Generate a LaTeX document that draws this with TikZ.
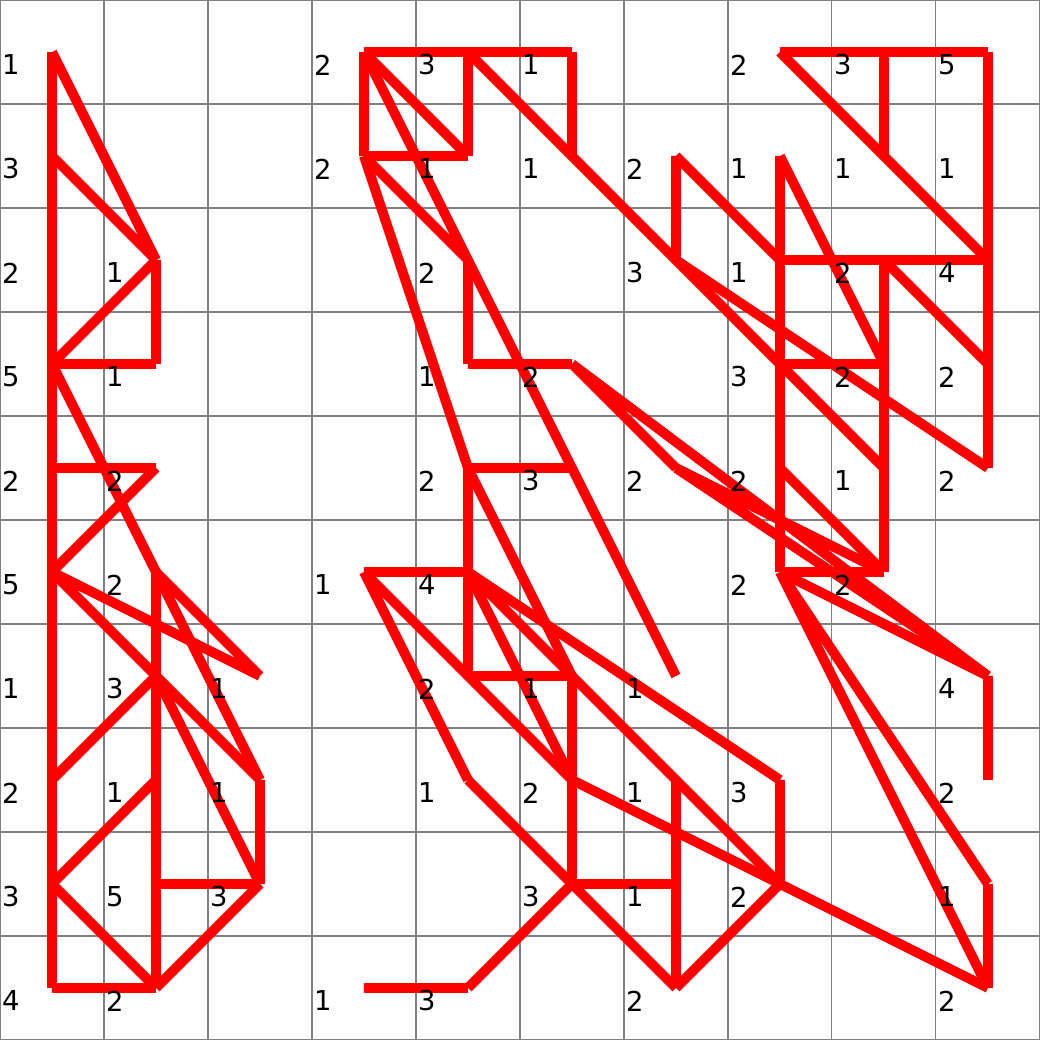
\documentclass[tikz,border=0pt]{standalone}
\usepackage{fontspec}
\setmainfont{DejaVu Sans}
\tikzset{
	gridline/.style={black!50, line width=0.3pt},
	track/.style={red, line width=2.7pt},
	count/.style={inner sep=0pt, font=\fontsize{7.5}{9}\selectfont}
}
\begin{document}
\begin{tikzpicture}[yscale=-1]
		\useasboundingbox (0,0) rectangle (10.02,10.01);
		\draw[gridline] (0,0) grid (10,10);

		\begin{scope}[shift={(0.5,0.5)}]
			% left figure
			\draw[track] (0,0) -- (0,9) (0,0) -- (1,2) (0,1) -- (1,2) (1,2) -- (1,3) (1,2) -- (0,3);
			\draw[track] (0,3) -- (1,3) (0,3) -- (1,5) (0,4) -- (1,4) (1,4) -- (0,5);
			\draw[track] (0,5) -- (2,6) (0,5) -- (1,6) (1,5) -- (1,9) (1,5) -- (2,6) (1,5) -- (2,7);
			\draw[track] (1,6) -- (0,7) (1,6) -- (2,7) (1,6) -- (2,8) (2,7) -- (2,8);
			\draw[track] (1,7) -- (0,8) (1,8) -- (2,8) (0,8) -- (1,9) (2,8) -- (1,9) (0,9) -- (1,9);

			% middle figure
			\draw[track] (3,0) -- (5,0) (3,0) -- (3,1) (4,0) -- (4,1) (5,0) -- (5,1) (3,1) -- (4,1) (3,0) -- (4,1);
			\draw[track] (3,0) -- (6,6) (4,0) -- (8,4) (3,1) -- (4,2) (3,1) -- (4,4) (4,2) -- (4,3) (4,3) -- (5,3);
			\draw[track] (6,1) -- (6,2) (6,1) -- (7,2) (6,2) -- (9,4);
			\draw[track] (5,3) -- (6,4) (5,3) -- (9,6) (6,4) -- (8,5) (6,4) -- (9,6);
			\draw[track] (4,4) -- (5,4) (4,4) -- (4,6) (4,4) -- (5,6) (4,6) -- (5,6);
			\draw[track] (3,5) -- (4,5) (3,5) -- (4,7) (3,5) -- (5,7);
			\draw[track] (4,5) -- (7,7) (4,5) -- (7,8) (4,5) -- (5,7);
			\draw[track] (5,6) -- (5,8) (4,7) -- (5,8) (5,7) -- (9,9) (5,8) -- (6,8) (5,8) -- (6,9);
			\draw[track] (5,8) -- (4,9) (3,9) -- (4,9) (6,7) -- (6,9) (7,7) -- (7,8) (6,9) -- (7,8);

			% right figure
			\draw[track] (7,0) -- (9,0) (7,0) -- (9,2) (8,0) -- (8,1) (9,0) -- (9,4);
			\draw[track] (7,1) -- (7,5) (7,1) -- (8,3) (7,2) -- (9,2) (8,2) -- (8,5) (8,2) -- (9,3);
			\draw[track] (7,3) -- (8,3) (7,4) -- (8,5) (7,5) -- (8,5);
			\draw[track] (7,5) -- (9,6) (7,5) -- (9,8) (7,5) -- (9,9) (9,6) -- (9,7) (9,8) -- (9,9);
		\end{scope}

		% counts in the cells, one row at a time
		\foreach \c/\n in {0/1,3/2,4/3,5/1,7/2,8/3,9/5} \node[count] (n-\c-0) at (\c+0.105,0.625) {\n};
		\foreach \c/\n in {0/3,3/2,4/1,5/1,6/2,7/1,8/1,9/1} \node[count] (n-\c-1) at (\c+0.105,1.625) {\n};
		\foreach \c/\n in {0/2,1/1,4/2,6/3,7/1,8/2,9/4} \node[count] (n-\c-2) at (\c+0.105,2.625) {\n};
		\foreach \c/\n in {0/5,1/1,4/1,5/2,7/3,8/2,9/2} \node[count] (n-\c-3) at (\c+0.105,3.625) {\n};
		\foreach \c/\n in {0/2,1/2,4/2,5/3,6/2,7/2,8/1,9/2} \node[count] (n-\c-4) at (\c+0.105,4.625) {\n};
		\foreach \c/\n in {0/5,1/2,3/1,4/4,7/2,8/2} \node[count] (n-\c-5) at (\c+0.105,5.625) {\n};
		\foreach \c/\n in {0/1,1/3,2/1,4/2,5/1,6/1,9/4} \node[count] (n-\c-6) at (\c+0.105,6.625) {\n};
		\foreach \c/\n in {0/2,1/1,2/1,4/1,5/2,6/1,7/3,9/2} \node[count] (n-\c-7) at (\c+0.105,7.625) {\n};
		\foreach \c/\n in {0/3,1/5,2/3,5/3,6/1,7/2,9/1} \node[count] (n-\c-8) at (\c+0.105,8.625) {\n};
		\foreach \c/\n in {0/4,1/2,3/1,4/3,6/2,9/2} \node[count] (n-\c-9) at (\c+0.105,9.625) {\n};
	\end{tikzpicture}
\end{document}
